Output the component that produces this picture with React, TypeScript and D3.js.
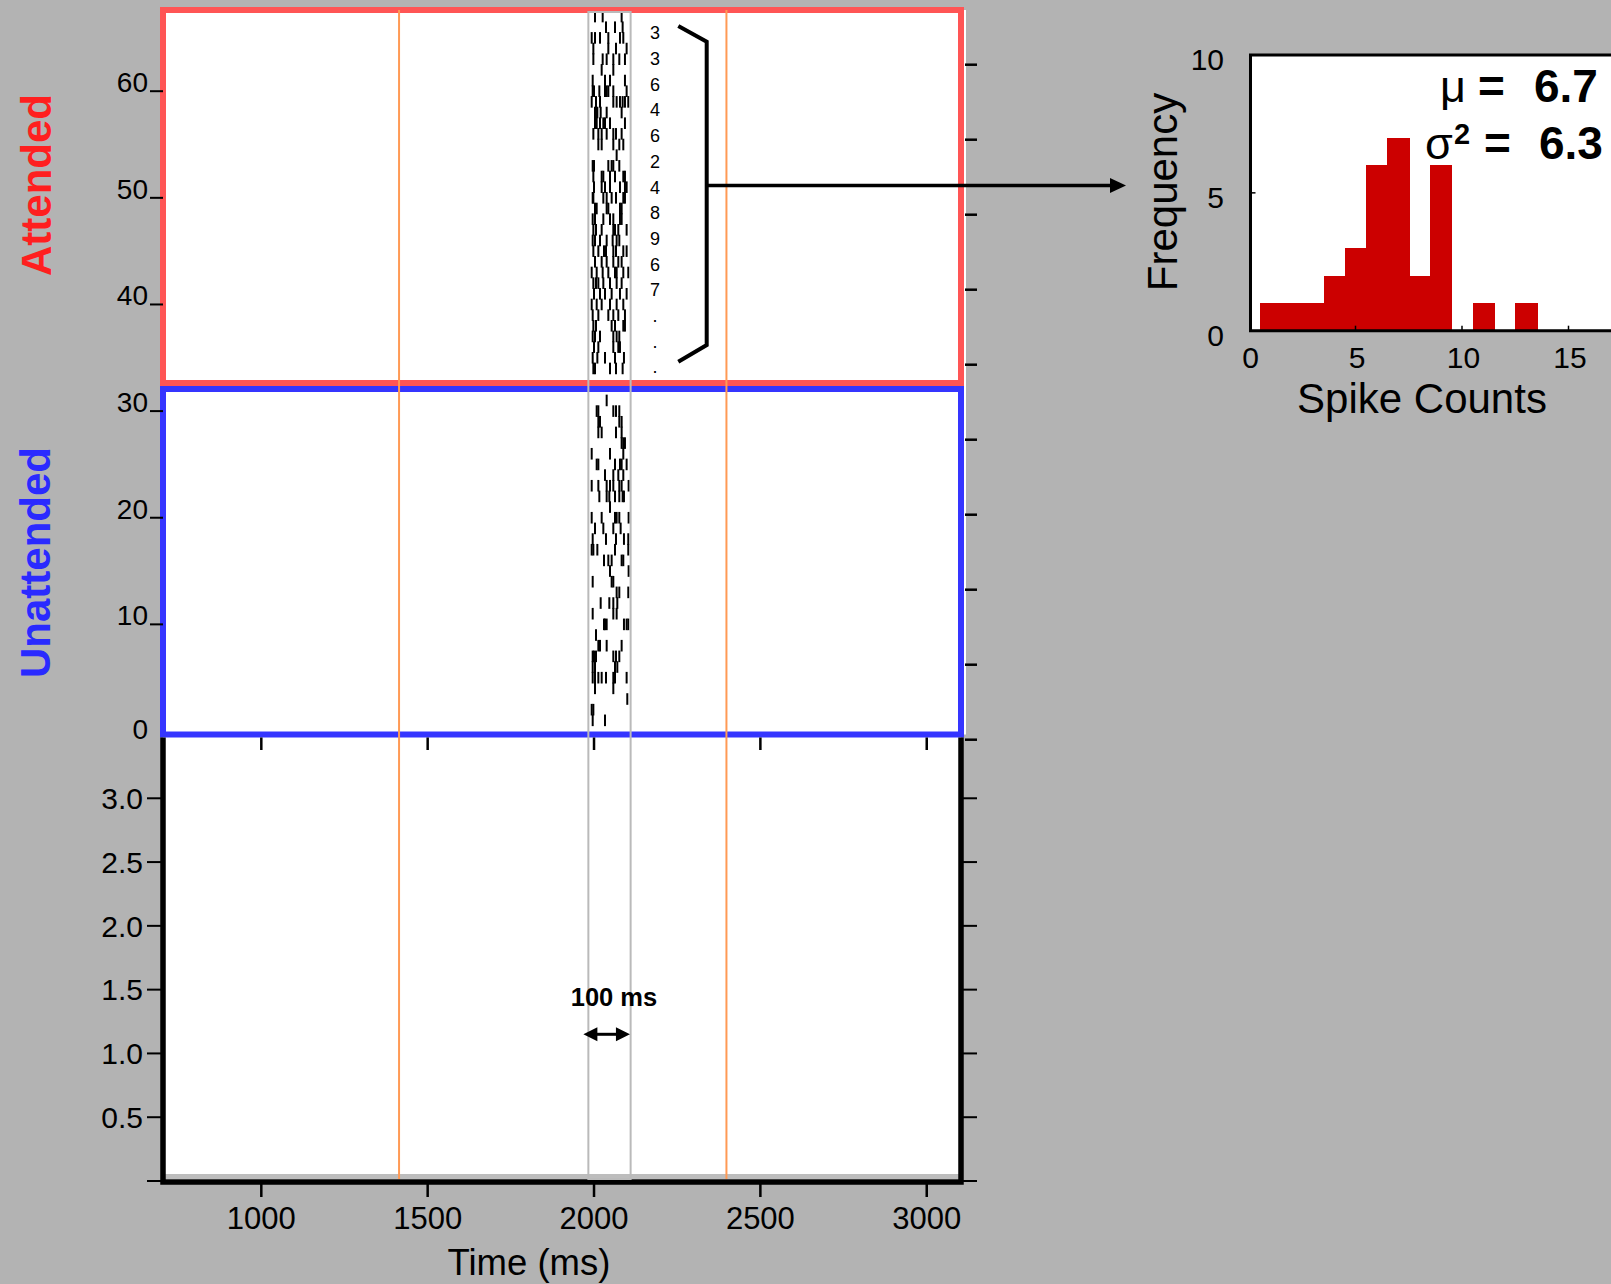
import React from 'react';
import * as d3 from 'd3';

// ---- axis ticks ----
const timeTicks = [1000, 1500, 2000, 2500, 3000];
const trialTicks = [0, 10, 20, 30, 40, 50, 60];
const rateTicks = [0, 0.5, 1.0, 1.5, 2.0, 2.5, 3.0];
const rateTickLabels = ['', '0.5', '1.0', '1.5', '2.0', '2.5', '3.0'];
const rightTicks = [0, 1, 2, 3, 4, 5, 6, 7, 8, 9];

// ---- events (ms) ----
const cueTimes = [1414, 2398];
const countWindow = [1983, 2110];
const scaleBarSpan = [1968, 2108];
const scaleBarRate = 1.15;
const scaleBarLabelRate = 1.37;

// ---- spike counts written next to the attended rows ----
const spikeCountLabels = ['3', '3', '6', '4', '6', '2', '4', '8', '9', '6', '7', '.', '.', '.'];

// ---- attended trials, top row = trial 67, spike times in ms ----
const attendedTopTrial = 67;
const attendedSpikes: number[][] = [
  [2003, 2026, 2083],
  [2036, 2063, 2086],
  [1993, 2003, 2018, 2043, 2078, 2088],
  [1998, 2043, 2066, 2098],
  [1998, 2026, 2038, 2058, 2076, 2093],
  [2023, 2058],
  [1996, 2033, 2048, 2093],
  [1996, 2000, 2016, 2033, 2038, 2043, 2058, 2098],
  [1993, 2006, 2018, 2058, 2068, 2078, 2086, 2093, 2103],
  [2003, 2006, 2010, 2020, 2038, 2083],
  [2003, 2008, 2018, 2028, 2033, 2048, 2093],
  [1998, 2013, 2023, 2038, 2058, 2066, 2083],
  [2013, 2023, 2058, 2076, 2088],
  [2068],
  [1996, 2000, 2043, 2053, 2058, 2076],
  [1998, 2023, 2028, 2048, 2063, 2088, 2093],
  [2000, 2023, 2033, 2048, 2078, 2093, 2098],
  [1996, 1998, 2028, 2038, 2053, 2066, 2088, 2093],
  [2003, 2008, 2038, 2043, 2078, 2083],
  [1996, 2003, 2028, 2048, 2058, 2078, 2083],
  [1998, 2006, 2023, 2058, 2063, 2073, 2098],
  [1996, 2003, 2018, 2038, 2056, 2068, 2076],
  [1998, 2013, 2030, 2036, 2058, 2066, 2088, 2098],
  [2003, 2023, 2038, 2058, 2073, 2083],
  [1993, 2008, 2026, 2043, 2063, 2068, 2088, 2103],
  [1998, 2006, 2013, 2028, 2048, 2068, 2083],
  [2000, 2018, 2033, 2053, 2078, 2098],
  [1993, 2008, 2023, 2048, 2068, 2088],
  [1996, 2013, 2043, 2058, 2073, 2093],
  [1998, 2006, 2053, 2063, 2088, 2093],
  [1996, 2003, 2018, 2058, 2068, 2076],
  [2000, 2013, 2058, 2073, 2078],
  [1996, 2010, 2033, 2063, 2090],
  [1998, 2003, 2048, 2066, 2086],
];

// ---- unattended trials, top row = trial 31 ----
const unattendedTopTrial = 31;
const unattendedSpikes: number[][] = [
  [2038],
  [2008, 2013, 2058, 2066, 2076],
  [2013, 2018, 2076, 2083],
  [2013, 2023, 2066, 2083],
  [2083, 2088, 2093],
  [1993, 2048, 2088],
  [2008, 2013, 2063, 2078, 2083, 2098],
  [2033, 2058, 2073, 2088],
  [1993, 2013, 2038, 2048, 2058, 2076, 2083, 2104],
  [2016, 2038, 2046, 2063, 2076, 2086, 2090],
  [2048],
  [1993, 2023, 2063, 2068, 2076, 2104],
  [2003, 2028, 2058, 2080],
  [1996, 2036, 2066, 2090, 2103],
  [1993, 1998, 2010, 2063, 2103],
  [2030, 2043, 2053, 2083, 2088],
  [2048, 2104],
  [1996, 2053, 2058],
  [2068, 2076, 2103],
  [2020, 2046, 2058, 2070],
  [1996, 2058, 2068],
  [2030, 2033, 2038, 2090, 2098, 2103],
  [2006],
  [2013, 2018, 2038, 2083],
  [1996, 2000, 2006, 2058, 2066, 2076],
  [1996, 2003, 2063, 2070],
  [1996, 2003, 2013, 2023, 2036, 2058, 2063, 2098],
  [2003, 2058],
  [2100],
  [1993, 1998],
  [1996, 2033],
];

// ---- spike-count histogram (attended) ----
const histCounts = [1, 2, 3, 4, 5, 6, 7, 8, 9, 10, 11, 12, 13];
const histFreq = [1, 1, 1, 2, 3, 6, 7, 2, 6, 0, 1, 0, 1];
const histXTicks = [0, 5, 10, 15];
const histYTicks = [0, 5, 10];
const statMean = '6.7';
const statVar = '6.3';

const FONT = "'Liberation Sans', Arial, Helvetica, sans-serif";
const BG = '#b3b3b3';

export default function App() {
  // main raster / rate axes
  const x = d3.scaleLinear().domain([700, 3100]).range([161.5, 960]);
  const yTrial = d3.scaleLinear().domain([0, 60]).range([731, 91.2]);
  const yRate = d3.scaleLinear().domain([0, 3.5]).range([1181, 734.5]);
  const yRight = d3.scaleLinear().domain([0, 9]).range([739.7, 64.7]);

  // histogram axes
  const hx = d3.scaleLinear().domain([0, 15]).range([1249, 1568.5]);
  const hy = d3.scaleLinear().domain([0, 10]).range([330.7, 55]);

  // panel frames
  const left = 163;
  const right = 961;
  const redTop = 10;
  const redBottom = 383;
  const blueTop = 389;
  const blueBottom = 734.5;
  const bottom = 1182;

  const histLeft = 1250.5;
  const histRight = 1614;

  const spikeHalf = 5.8;

  const rasterRows = [
    ...attendedSpikes.map((s, i) => ({ trial: attendedTopTrial - i, spikes: s })),
    ...unattendedSpikes.map((s, i) => ({ trial: unattendedTopTrial - i, spikes: s })),
  ];

  const lineStep = 25.7;
  const labelTop = 39.3;

  const bracketX = 706.7;
  const arrowY = 185.5;

  return (
    <svg
      width={1611}
      height={1284}
      viewBox="0 0 1611 1284"
      style={{ position: 'absolute', left: 0, top: 0, display: 'block' }}
      fontFamily={FONT}
    >
      <rect x={0} y={0} width={1611} height={1284} fill={BG} />

      {/* plot backgrounds */}
      <rect x={left} y={redTop} width={966 - left} height={blueBottom - redTop} fill="#fff" />
      <rect x={left} y={blueBottom} width={right - left} height={bottom - blueBottom} fill="#fff" />

      {/* flat rate trace along the floor */}
      <line x1={left + 2} x2={right - 2} y1={yRate(0) - 4.5} y2={yRate(0) - 4.5} stroke="#bdbdbd" strokeWidth={5} />

      {/* spike raster */}
      <g stroke="#000" strokeWidth={2}>
        {rasterRows.map((row) =>
          row.spikes.map((t, j) => (
            <line
              key={`${row.trial}-${j}`}
              x1={x(t)}
              x2={x(t)}
              y1={yTrial(row.trial) - spikeHalf}
              y2={yTrial(row.trial) + spikeHalf}
            />
          ))
        )}
      </g>

      {/* frames */}
      <rect x={left} y={redTop} width={right - left} height={redBottom - redTop} fill="none" stroke="#ff5555" strokeWidth={6} />
      <rect x={left} y={blueTop} width={right - left} height={blueBottom - blueTop} fill="none" stroke="#3535ff" strokeWidth={6} />
      <path d={`M${left},${blueBottom + 3} V${bottom} H${right} V${blueBottom + 3}`} fill="none" stroke="#000" strokeWidth={5.5} />

      {/* cue lines */}
      {cueTimes.map((t) => (
        <line key={t} x1={x(t)} x2={x(t)} y1={redTop} y2={bottom - 3} stroke="#ff9a55" strokeWidth={2} />
      ))}

      {/* counting window */}
      <rect
        x={x(countWindow[0])}
        y={12}
        width={x(countWindow[1]) - x(countWindow[0])}
        height={bottom - 3 - 12}
        fill="none"
        stroke="#bababa"
        strokeWidth={2}
      />

      {/* trial axis */}
      <g fontSize={28} fill="#000" textAnchor="end">
        {trialTicks.map((v) => (
          <g key={v}>
            {v !== 0 && <line x1={150} x2={left} y1={yTrial(v)} y2={yTrial(v)} stroke="#000" strokeWidth={2} />}
            <text x={148} y={v === 0 ? 739 : yTrial(v) + 1}>{v}</text>
          </g>
        ))}
      </g>

      {/* unlabeled right-hand ticks */}
      <g stroke="#000" strokeWidth={2.5}>
        {rightTicks.map((v) => (
          <line key={v} x1={965} x2={977} y1={yRight(v)} y2={yRight(v)} />
        ))}
      </g>

      {/* rate axis */}
      <g fontSize={30} textAnchor="end">
        {rateTicks.map((v, i) => (
          <g key={v}>
            <line x1={147} x2={left} y1={yRate(v)} y2={yRate(v)} stroke="#000" strokeWidth={2} />
            <line x1={right} x2={977} y1={yRate(v)} y2={yRate(v)} stroke="#000" strokeWidth={2} />
            <text x={143} y={yRate(v)} dy="0.36em">{rateTickLabels[i]}</text>
          </g>
        ))}
      </g>

      {/* time axis */}
      <g fontSize={31} textAnchor="middle">
        {timeTicks.map((t) => (
          <g key={t}>
            <line x1={x(t)} x2={x(t)} y1={bottom} y2={1197} stroke="#000" strokeWidth={2.5} />
            <line x1={x(t)} x2={x(t)} y1={blueBottom + 3} y2={750} stroke="#000" strokeWidth={2.5} />
            <text x={x(t)} y={1229}>{t}</text>
          </g>
        ))}
        <text x={529} y={1275} fontSize={36.5}>Time (ms)</text>
      </g>

      {/* 100 ms scale bar */}
      <g>
        <text x={x(2060)} y={yRate(scaleBarLabelRate)} fontSize={25.5} fontWeight="bold" textAnchor="middle">100 ms</text>
        <line
          x1={x(scaleBarSpan[0]) + 12}
          x2={x(scaleBarSpan[1]) - 12}
          y1={yRate(scaleBarRate)}
          y2={yRate(scaleBarRate)}
          stroke="#000"
          strokeWidth={3}
        />
        <path
          d={`M${x(scaleBarSpan[0])},${yRate(scaleBarRate)} l14,-7 v14 Z`}
          fill="#000"
        />
        <path
          d={`M${x(scaleBarSpan[1])},${yRate(scaleBarRate)} l-14,-7 v14 Z`}
          fill="#000"
        />
      </g>

      {/* condition labels */}
      <text
        transform="translate(51,185) rotate(-90)"
        fontSize={42}
        fontWeight="bold"
        fill="#ff1f1f"
        textAnchor="middle"
      >
        Attended
      </text>
      <text
        transform="translate(50,562.5) rotate(-90)"
        fontSize={42}
        fontWeight="bold"
        fill="#2a2aff"
        textAnchor="middle"
      >
        Unattended
      </text>

      {/* per-trial spike counts */}
      <g fontSize={18} textAnchor="middle">
        {spikeCountLabels.map((s, i) => (
          <text key={i} x={655} y={labelTop + i * lineStep}>{s}</text>
        ))}
      </g>

      {/* bracket and arrow to histogram */}
      <path
        d={`M678.3,26 L${bracketX},41.7 V345 L678.3,361.7`}
        fill="none"
        stroke="#000"
        strokeWidth={4}
        strokeLinejoin="miter"
      />
      <line x1={bracketX} x2={1111} y1={arrowY} y2={arrowY} stroke="#000" strokeWidth={3.5} />
      <path d={`M1126,${arrowY} L1110,${arrowY - 7.5} L1110,${arrowY + 7.5} Z`} fill="#000" />

      {/* histogram */}
      <rect x={histLeft} y={hy(10)} width={histRight - histLeft} height={hy(0) - hy(10)} fill="#fff" />
      <g shapeRendering="crispEdges">
        {histCounts.map((c, i) =>
          histFreq[i] > 0 ? (
            <rect
              key={c}
              x={hx(c - 0.5)}
              y={hy(histFreq[i])}
              width={hx(c + 0.5) - hx(c - 0.5) + 1}
              height={hy(0) - hy(histFreq[i])}
              fill="#cc0000"
            />
          ) : null
        )}
      </g>
      <path
        d={`M${histRight},${hy(10)} H${histLeft} V${hy(0)} H${histRight}`}
        fill="none"
        stroke="#000"
        strokeWidth={3}
      />
      <g stroke="#000" strokeWidth={1.5}>
        {histXTicks.filter((v) => v > 0).map((v) => (
          <line key={v} x1={hx(v)} x2={hx(v)} y1={hy(0)} y2={hy(0) - 5} />
        ))}
        <line x1={histLeft} x2={histLeft + 5} y1={hy(5)} y2={hy(5)} />
      </g>
      <g fontSize={30} textAnchor="middle">
        {histXTicks.map((v) => (
          <text key={v} x={hx(v) + 1.5} y={368}>{v}</text>
        ))}
      </g>
      <g fontSize={30} textAnchor="end">
        {histYTicks.map((v) => (
          <text key={v} x={1224} y={hy(v) + 15}>{v}</text>
        ))}
      </g>
      <text x={1422} y={413} fontSize={42} textAnchor="middle">Spike Counts</text>
      <text transform="translate(1177,192) rotate(-90)" fontSize={42} textAnchor="middle">Frequency</text>

      {/* summary statistics */}
      <text y={101.7} fontSize={46}>
        <tspan x={1440} fontSize={45}>μ</tspan>
        <tspan x={1478} fontWeight="bold">=</tspan>
        <tspan x={1534} fontWeight="bold">{statMean}</tspan>
      </text>
      <text y={159.3} fontSize={46}>
        <tspan x={1425} fontSize={45}>σ</tspan>
        <tspan x={1454} y={144} fontSize={29} fontWeight="bold">2</tspan>
        <tspan x={1484} y={159.3} fontWeight="bold">=</tspan>
        <tspan x={1539} fontWeight="bold">{statVar}</tspan>
      </text>
    </svg>
  );
}
